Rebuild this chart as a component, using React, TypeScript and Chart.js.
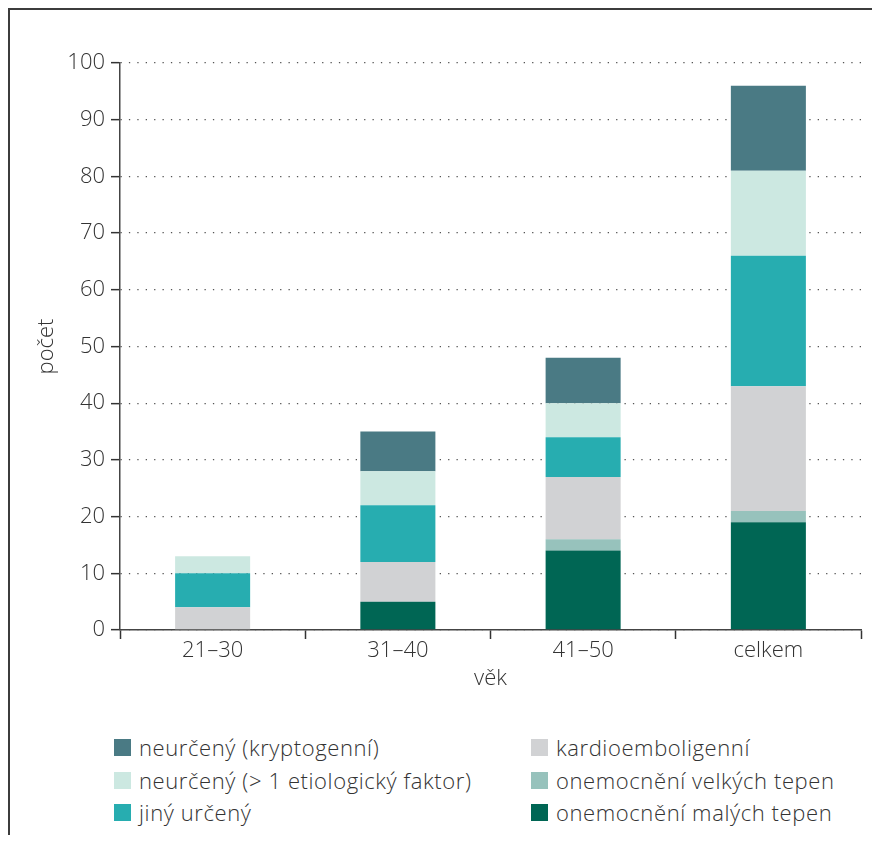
import React, { useEffect, useRef } from "react";
import { Chart, registerables } from "chart.js";

Chart.register(...registerables);

// Categories (age groups)
const categories = ["21–30", "31–40", "41–50", "celkem"];

// Series values (stacked bottom → top)
const malychTepen = [0, 5, 14, 19];
const velkychTepen = [0, 0, 2, 2];
const kardioemboligenni = [4, 7, 11, 22];
const jinyUrceny = [6, 10, 7, 23];
const neurcenyVice = [3, 6, 6, 15];
const neurcenyKrypto = [0, 7, 8, 15];

// Series labels
const labelMalych = "onemocnění malých tepen";
const labelVelkych = "onemocnění velkých tepen";
const labelKardio = "kardioemboligenní";
const labelJiny = "jiný určený";
const labelVice = "neurčený (> 1 etiologický faktor)";
const labelKrypto = "neurčený (kryptogenní)";

// Axis
const yMin = 0;
const yMax = 100;
const yStep = 10;
const yTitle = "počet";
const xTitle = "věk";

const FONT = "'Open Sans', 'Noto Sans', sans-serif";
const TEXT = "#333333";
const FW = "350";

const seriesDefs = [
  { label: labelMalych, data: malychTepen, color: "#006654" },
  { label: labelVelkych, data: velkychTepen, color: "#97c2bc" },
  { label: labelKardio, data: kardioemboligenni, color: "#d1d2d4" },
  { label: labelJiny, data: jinyUrceny, color: "#27adb0" },
  { label: labelVice, data: neurcenyVice, color: "#cce8e1" },
  { label: labelKrypto, data: neurcenyKrypto, color: "#4a7a84" },
];

export default function App() {
  const canvasRef = useRef<HTMLCanvasElement | null>(null);

  useEffect(() => {
    const canvas = canvasRef.current;
    if (!canvas) return;
    const f = { family: FONT, size: 22, weight: FW as any };
    const chart = new Chart(canvas, {
      type: "bar",
      data: {
        labels: categories,
        datasets: seriesDefs.map((s) => ({
          label: s.label,
          data: s.data,
          backgroundColor: s.color,
          borderWidth: 0,
          barPercentage: 0.405,
          categoryPercentage: 1,
        })),
      },
      options: {
        responsive: false,
        animation: false,
        devicePixelRatio: 1,
        layout: { padding: { top: 53, right: 11, left: 0, bottom: 0 } },
        plugins: {
          legend: { display: false },
          tooltip: { enabled: false },
        },
        scales: {
          x: {
            stacked: true,
            offset: true,
            grid: {
              display: true,
              drawOnChartArea: false,
              drawTicks: true,
              tickLength: 9,
              tickColor: "#333",
              tickWidth: 1.5,
              offset: true,
            },
            border: { display: true, color: "#444", width: 1.5 },
            ticks: {
              color: TEXT,
              font: f,
              padding: -1,
              maxRotation: 0,
            },
            title: {
              display: true,
              text: xTitle,
              color: TEXT,
              font: f,
              padding: { top: 0, bottom: 8 },
            },
            afterFit: (s: any) => {
              s.height = 70;
            },
          },
          y: {
            stacked: true,
            min: yMin,
            max: yMax,
            grid: {
              display: true,
              drawOnChartArea: true,
              drawTicks: true,
              tickLength: 9,
              color: "#555",
              lineWidth: 1.3,
              tickColor: "#333",
              tickWidth: 1.5,
              tickBorderDash: [],
            },
            border: { display: true, color: "#444", width: 1.5, dash: [1.3, 7.1] },
            ticks: {
              stepSize: yStep,
              color: TEXT,
              font: f,
              padding: 6,
            },
            title: {
              display: true,
              text: yTitle,
              color: TEXT,
              font: f,
              padding: { top: 24, bottom: 0 },
            },
            afterFit: (s: any) => {
              s.width = 110;
            },
          },
        },
      },
    });
    return () => chart.destroy();
  }, []);

  const legendItems = [...seriesDefs].reverse();
  const rowTops = [729, 761.5, 794];
  const colLefts = [104, 521];

  return (
    <div
      style={{
        position: "relative",
        width: 872,
        height: 835,
        marginBottom: -8,
        boxSizing: "border-box",
        borderTop: "2px solid #3c3c3c",
        borderLeft: "2px solid #3c3c3c",
        background: "#fff",
      }}
    >
      <canvas
        ref={canvasRef}
        width={862}
        height={690}
        style={{ position: "absolute", left: 0, top: 0, display: "block", width: 862, height: 690 }}
      />
      {legendItems.map((s, i) => {
        const col = Math.floor(i / 3);
        const row = i % 3;
        return (
          <div
            key={s.label}
            style={{
              position: "absolute",
              left: colLefts[col],
              top: rowTops[row],
              height: 17,
              display: "flex",
              alignItems: "center",
              whiteSpace: "nowrap",
            }}
          >
            <span
              style={{
                display: "inline-block",
                width: 17,
                height: 17,
                background: s.color,
                marginRight: 8,
                flex: "none",
              }}
            />
            <span
              style={{
                fontFamily: FONT,
                fontSize: 22,
                fontWeight: 350,
                letterSpacing: "0.6px",
                color: TEXT,
                lineHeight: "17px",
              }}
            >
              {s.label}
            </span>
          </div>
        );
      })}
    </div>
  );
}
